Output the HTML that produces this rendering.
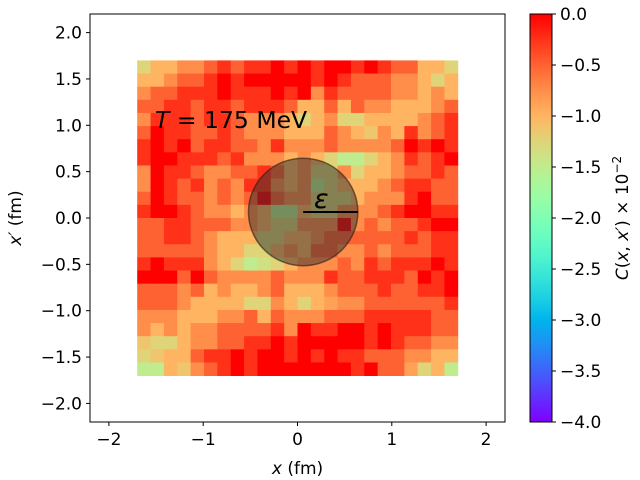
<!DOCTYPE html>
<html><head><meta charset="utf-8">
<style>
html,body{margin:0;padding:0;background:#fff;}
svg{display:block;font-family:"DejaVu Sans","Liberation Sans",sans-serif;}
</style></head>
<body>
<svg id="chart" width="640" height="480" viewBox="0 0 640 480" xmlns="http://www.w3.org/2000/svg">
  <g id="cells"></g>
  <g id="overlay"></g>
  <rect x="90" y="14" width="415" height="408" fill="none" stroke="#000" stroke-width="1"/>
  <g id="xticks"></g>
  <g id="yticks"></g>
  <text x="297.5" y="474" font-size="17" text-anchor="middle"><tspan font-style="italic">x</tspan> (fm)</text>
  <text transform="translate(21,218) rotate(-90)" font-size="17" text-anchor="middle"><tspan font-style="italic">x′</tspan> (fm)</text>
  <text x="155" y="128" font-size="23.5"><tspan font-style="italic">T</tspan> = 175 MeV</text>
  <defs><linearGradient id="cbgrad" x1="0" y1="1" x2="0" y2="0"></linearGradient></defs>
  <rect x="530" y="14" width="22" height="408" fill="url(#cbgrad)" stroke="#000" stroke-width="1"/>
  <g id="cbticks"></g>
  <text transform="translate(628,218) rotate(-90)" font-size="17" text-anchor="middle"><tspan font-style="italic">C</tspan>(<tspan font-style="italic">x</tspan>, <tspan font-style="italic">x′</tspan>) × 10<tspan dy="-7" font-size="12">−2</tspan></text>
</svg>
<script>
// ---- data ----
const xTicks = [-2, -1, 0, 1, 2];
const yTicks = [-2.0, -1.5, -1.0, -0.5, 0.0, 0.5, 1.0, 1.5, 2.0];
const cbTicks = [0.0, -0.5, -1.0, -1.5, -2.0, -2.5, -3.0, -3.5, -4.0];
const gridExtent = [-1.7, 1.7];
const circleCenter = [0.06, 0.065];
const circleRadius = 0.58;
// rows from top (x' = +1.7) to bottom, values in units of 10^-2
const L = [
[5,4,4,3,3,2,1,2,1,1,0,1,0,1,0,0,1,0,1,2,2,4,4,5],
[4,4,3,2,2,1,0,1,0,0,0,0,0,1,0,1,2,2,2,3,3,4,5,4],
[3,2,2,1,1,1,0,1,1,1,0,1,0,3,1,2,2,2,2,3,3,4,3,4],
[2,2,1,1,2,1,1,2,1,1,1,2,4,4,2,4,2,3,3,4,4,4,3,2],
[3,1,1,1,2,1,1,2,3,3,3,4,5,4,3,5,5,4,4,4,4,3,2,1],
[2,0,1,1,2,2,1,2,3,3,3,4,4,4,2,3,4,4.5,3,4,1,3,2,1],
[1,0,1,0,2,1,1,2,2,3,1,3,3,3,2,3,3,3,3,2,0,1,0,1],
[1,0,0,1,1,1,2,1,3,3,3,4,3,4,5,6,6,5,4,3,1,2,1,0],
[3,0,1,1,2,3,3,2,2,1,2,4,3,5,5,3,5,4,4,3,2,2,1,2],
[3,0,1,2,1,3,2,3,1,1,3,4,3,6,5,4,4,4,3,2,1,1,2,2],
[2,0,1,2,2,3,2,3,2,0,2,3,3,5,5,5,4,3,3,3,1,0,2,2],
[1,0,0,1,2,3,3,4,3,4,6,6,4,5,5,3,3,3,2,1,0,0,1,1],
[2,2,1,1,2,2,2,3,3,4,5,5,3,3,3,0,3,2,3,2,2,1,0,0],
[2,2,1,1,2,3,4,4,4,5,5,4,4,3,2,2,2,2,2,2,1,2,1,1],
[2,2,2,2,2,3,4,4,5,5,4,3,4,2,2,3,3,2,3,2,2,2,1,1],
[1,0,1,1,1,3,4,5,6,5.5,5,4,3,3,3,2,3,1,2,1,1,1,0,1],
[0,0,0,2,0,2,3,3,3,3,2,3,3,3,1,2,2,1,1,1,2,0,1,0],
[2,2,2,3,2,4,3,4,4,3,2,4,4,4,3,2,2,2,1,2,2,1,1,0],
[2,2,2,3,4,4,4,4,5,5,3,4,5,4,3.5,3,3,2,2,2,2,2,2,1],
[3,3,3,4,4,4,3,3,2,4,2,3,3,3,2,2,2,1,1,1,1,1,2,2],
[3,4,3,4,3,3,2,2,2,2,1,3,0,1,1,0,0,1,0,1,1,1,2,2],
[4.5,5,5,4,3,3,2,2,1,1,0,1,0,0,0,0,0,1,0,1,2,2,3,3],
[5,4.5,4,4,2,1,1,0,1,0,0,1,0,1,0,1,1,2,2,2,3,3,4,4],
[6,6,4,4.5,3,2,1,0,1,0,0,0,0,0,0,0,1,0,2,2,3.5,5,4,6]
];
const cVals = L.map(r => r.map(k => -0.25 * k));

// ---- scales ----
const X = v => 297.5 + v * 94.3;
const Y = v => 218 - v * 92.7;
const vmin = -4, vmax = 0;
const CB = v => 422 - (v - vmin) / (vmax - vmin) * 408;
function rainbow(v){
  let t = Math.max(0, Math.min(1, (v - vmin) / (vmax - vmin)));
  let r = Math.min(1, Math.abs(2*t - 0.5)), g = Math.sin(Math.PI*t), b = Math.cos(Math.PI*t/2);
  return `rgb(${Math.round(r*255)},${Math.round(g*255)},${Math.round(Math.max(0,b)*255)})`;
}
const NS = "http://www.w3.org/2000/svg";
function mk(tag, attrs, parent){ const e = document.createElementNS(NS, tag); for (const k in attrs) e.setAttribute(k, attrs[k]); parent.appendChild(e); return e; }
const fmt = v => (v < 0 ? "−" : "") + Math.abs(v).toFixed(1);

// ---- cells ----
const cellsG = document.getElementById("cells");
const nR = cVals.length, nC = cVals[0].length;
const dx = (gridExtent[1] - gridExtent[0]) / nC, dy = (gridExtent[1] - gridExtent[0]) / nR;
cVals.forEach((row, i) => row.forEach((v, j) => {
  const x0 = X(gridExtent[0] + j*dx), x1 = X(gridExtent[0] + (j+1)*dx);
  const y0 = Y(gridExtent[1] - i*dy), y1 = Y(gridExtent[1] - (i+1)*dy);
  const r = mk("rect", {x: x0, y: y0, width: x1 - x0 + 0.4, height: y1 - y0 + 0.4, fill: rainbow(v)}, cellsG);
  
  
}));

// ---- overlay circle and epsilon ----
const ov = document.getElementById("overlay");
const cx = X(circleCenter[0]), cy = Y(circleCenter[1]);
const circ = mk("ellipse", {cx: cx, cy: cy, rx: circleRadius*94.3, ry: circleRadius*92.7, fill: "rgba(45,45,45,0.5)", stroke: "rgba(40,30,20,0.6)", "stroke-width": 1.5}, ov);


const ln = mk("line", {x1: cx, y1: cy, x2: X(circleCenter[0] + circleRadius), y2: cy, stroke: "#000", "stroke-width": 2}, ov);


const et = mk("text", {x: 314, y: 208, "font-size": 27, "font-style": "italic"}, ov);
et.textContent = "ε";



// ---- axes ----
const xg = document.getElementById("xticks");
xTicks.forEach(t => {
  const l = mk("line", {x1: X(t), x2: X(t), y1: 422, y2: 426, stroke: "#000"}, xg);
  
  
  const tx = mk("text", {x: X(t), y: 445, "font-size": 17, "text-anchor": "middle"}, xg);
  tx.textContent = (t < 0 ? "−" : "") + Math.abs(t);
  
  
});
const yg = document.getElementById("yticks");
yTicks.forEach(t => {
  const l = mk("line", {x1: 86, x2: 90, y1: Y(t), y2: Y(t), stroke: "#000"}, yg);
  
  
  const tx = mk("text", {x: 82, y: Y(t) + 6, "font-size": 17, "text-anchor": "end"}, yg);
  tx.textContent = fmt(t);
  
  
});

// ---- colorbar ----
const grad = document.getElementById("cbgrad");
for (let s = 0; s <= 20; s++) {
  const v = vmin + (vmax - vmin) * s / 20;
  mk("stop", {offset: (s/20).toFixed(3), "stop-color": rainbow(v)}, grad);
}
const cg = document.getElementById("cbticks");
cbTicks.forEach(t => {
  const l = mk("line", {x1: 552, x2: 556, y1: CB(t), y2: CB(t), stroke: "#000"}, cg);
  
  
  const tx = mk("text", {x: 560, y: CB(t) + 6, "font-size": 17}, cg);
  tx.textContent = fmt(t);
  
  
});
</script>
</body></html>
